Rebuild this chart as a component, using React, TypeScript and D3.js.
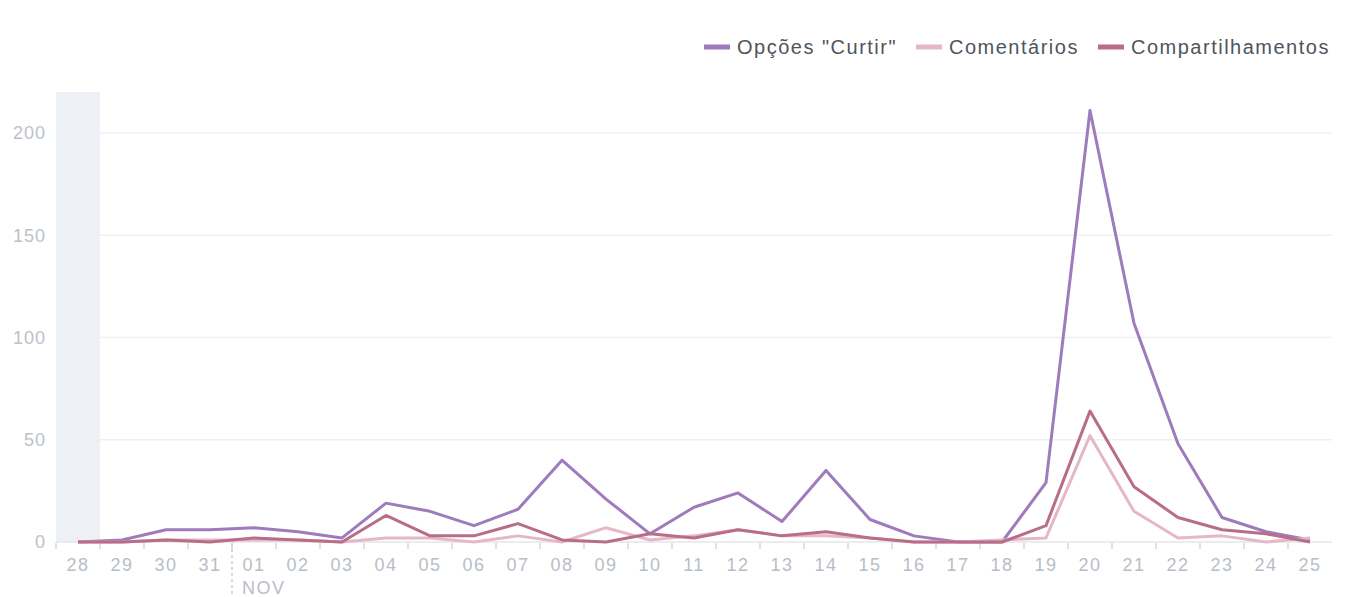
import React from 'react';
import { scaleBand, scaleLinear, line } from 'd3';

const days = ['28', '29', '30', '31', '01', '02', '03', '04', '05', '06', '07', '08', '09', '10', '11', '12', '13', '14', '15', '16', '17', '18', '19', '20', '21', '22', '23', '24', '25'];
const curtir = [0, 1, 6, 6, 7, 5, 2, 19, 15, 8, 16, 40, 21, 4, 17, 24, 10, 35, 11, 3, 0, 0, 29, 211, 107, 48, 12, 5, 1];
const comentarios = [0, 0, 1, 1, 1, 1, 0, 2, 2, 0, 3, 0, 7, 1, 3, 6, 3, 3, 2, 0, 0, 1, 2, 52, 15, 2, 3, 0, 2];
const compart = [0, 0, 1, 0, 2, 1, 0, 13, 3, 3, 9, 1, 0, 4, 2, 6, 3, 5, 2, 0, 0, 0, 8, 64, 27, 12, 6, 4, 0];
const yTicks = [0, 50, 100, 150, 200];

const series = [
  { name: 'Opções "Curtir"', values: curtir, color: '#9d7bbd' },
  { name: 'Comentários', values: comentarios, color: '#e5b7c8' },
  { name: 'Compartilhamentos', values: compart, color: '#b86d88' },
];

export default function App() {
  const width = 1345;
  const height = 597;
  const left = 56;
  const right = 1332;
  const top = 92;
  const bottom = 542;

  const x = scaleBand().domain(days).range([left, right]);
  const y = scaleLinear().domain([0, 200]).range([bottom, bottom - 409]);
  const cx = (d: string) => (x(d) as number) + x.bandwidth() / 2;

  const font = '"Liberation Sans", Arial, sans-serif';
  // legend positions
  const legendX = [704, 916, 1098];

  return (
    <svg width={width} height={height} style={{ position: 'absolute', left: 0, top: 0, fontFamily: font }}>
      <rect x={x('28')} y={top} width={x.bandwidth()} height={bottom - top} fill="#edf0f5" />

      {yTicks.map(t => (
        <g key={t}>
          <line x1={left} x2={right} y1={y(t)} y2={y(t)} stroke={t === 0 ? '#e4e6ea' : '#eef0f2'} strokeWidth={1.5} />
          <text x={46} y={y(t)} dy="0.35em" textAnchor="end" fontSize={18} letterSpacing={1} fill="#bcc1c9">{t}</text>
        </g>
      ))}

      {days.map((d, i) => (
        <g key={d + i}>
          <line x1={x(d)} x2={x(d)} y1={bottom + 1} y2={bottom + 7} stroke="#d3d6db" strokeWidth={1.5} />
          <text x={cx(d)} y={565} dy="0.35em" textAnchor="middle" fontSize={18} letterSpacing={1.5} fill="#b8bec7">{d}</text>
        </g>
      ))}
      <line x1={x('01')} x2={x('01')} y1={bottom + 1} y2={597} stroke="#c9cdd3" strokeWidth={1.5} strokeDasharray="3,3" />
      <text x={(x('01') as number) + 10} y={588} dy="0.35em" fontSize={18} letterSpacing={1.5} fill="#b8bec7">NOV</text>

      {series.map(s => (
        <path
          key={s.name}
          d={line<number>().x((_, i) => cx(days[i])).y(v => y(v))(s.values) || ''}
          fill="none"
          stroke={s.color}
          strokeWidth={3}
          strokeLinejoin="round"
        />
      ))}

      {series.map((s, i) => (
        <g key={s.name} transform={`translate(${legendX[i]},47)`}>
          <rect x={0} y={-2.5} width={26} height={5} fill={s.color} />
          <text x={33} y={0} dy="0.35em" fontSize={20} letterSpacing={1.5} fill="#50545c">{s.name}</text>
        </g>
      ))}
    </svg>
  );
}
